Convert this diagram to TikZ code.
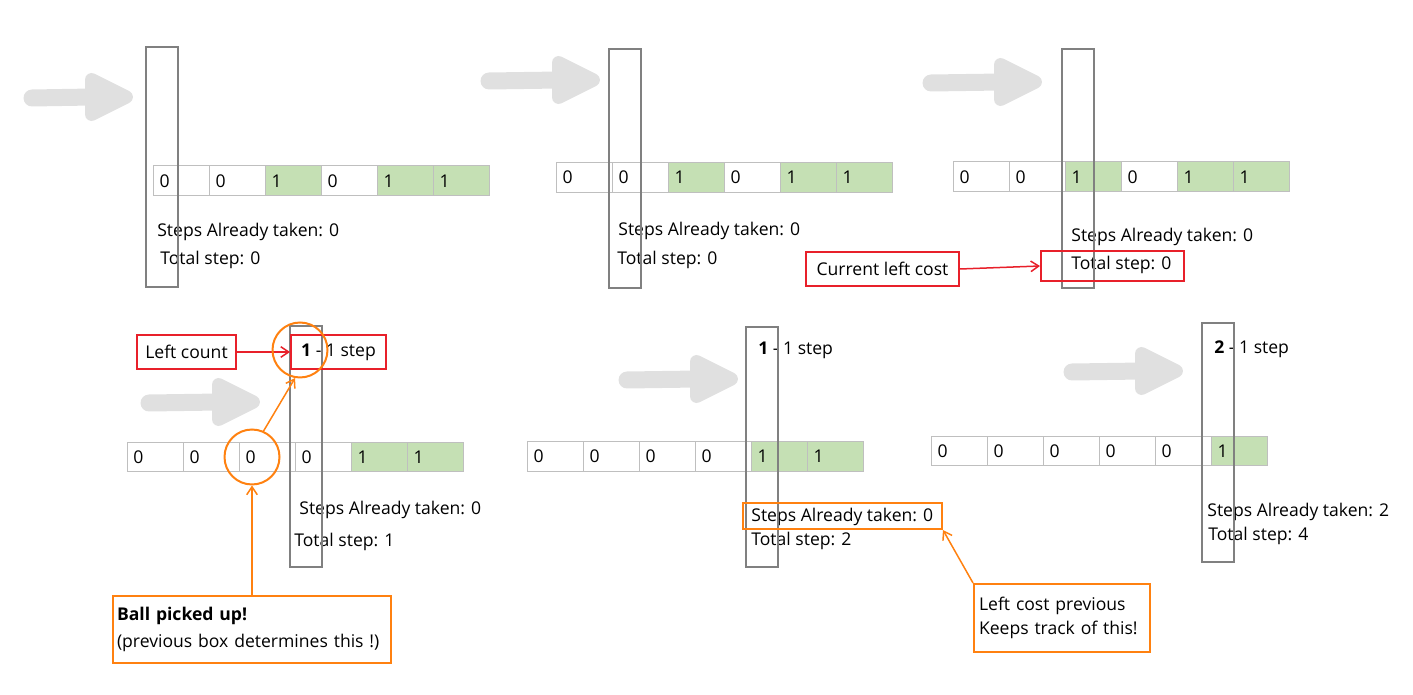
\documentclass[tikz,border=0pt]{standalone}
\usepackage{fontspec}
\setmainfont{Open Sans}
\usetikzlibrary{arrows.meta}

\definecolor{fatgray}{HTML}{E0E0E0}
\definecolor{bargray}{HTML}{808080}
\definecolor{cellline}{HTML}{BFBFBF}
\definecolor{cellgreen}{HTML}{C5E0B4}
\definecolor{notered}{HTML}{E8202A}
\definecolor{noteorange}{HTML}{FF8110}

\tikzset{
  cellbox/.style={draw=cellline, line width=0.02cm, anchor=west,
    minimum width=1.12cm, minimum height=0.6cm, inner xsep=0.12cm,
    inner ysep=0pt, text width=0.88cm, align=left},
  cell0/.style={cellbox},
  cell1/.style={cellbox, fill=cellgreen},
  scanbar/.style={draw=bargray, line width=0.04cm},
  txt/.style={anchor=west, inner sep=0pt},
  redbox/.style={draw=notered, line width=0.04cm, minimum height=0.68cm},
  orangebox/.style={draw=noteorange, line width=0.04cm},
  ring/.style={circle, draw=noteorange, line width=0.04cm,
    minimum size=1.1cm, inner sep=0pt},
  redarrow/.style={draw=notered, line width=0.03cm,
    -{Straight Barb[length=4.5pt,width=6pt]}},
  orangearrow/.style={draw=noteorange, line width=0.03cm,
    -{Straight Barb[length=4.5pt,width=6pt]}},
  pics/fatarrow/.style={code={
    \draw[fatgray, line width=0.34cm, line cap=round] (-#1,1) -- (-40,0);
    \filldraw[fatgray, line width=0.26cm, line join=round]
      (-41.5,-17.5) -- (-6.5,0) -- (-41.5,17.5) -- cycle;
  }}
}

\begin{document}
\begin{tikzpicture}[x=0.02cm, y=-0.02cm]

        \useasboundingbox (0,0) rectangle (1413,695);

        % Step 1
        \pic at (133,97) {fatarrow=101};
        \foreach \v [count=\i] in {0,0,1,0,1,1}
            \node[cell\v] (a\i) at ({153+56*(\i-1)},181) {\v};
        \node[txt] (steps1) at (157,232) {Steps Already taken: 0};
        \node[txt] (total1) at (160,260) {Total step: 0};
        \draw[scanbar] (146,47) rectangle (178,287);

        % Step 2
        \pic at (600,80) {fatarrow=111};
        \foreach \v [count=\i] in {0,0,1,0,1,1}
            \node[cell\v] (b\i) at ({556+56*(\i-1)},177.5) {\v};
        \node[txt] (steps2) at (618,231) {Steps Already taken: 0};
        \node[txt] (total2) at (617,260) {Total step: 0};
        \draw[scanbar] (609,49) rectangle (641,288);

        % Step 3
        \pic at (1042,82) {fatarrow=111};
        \foreach \v [count=\i] in {0,0,1,0,1,1}
            \node[cell\v] (c\i) at ({953+56*(\i-1)},177) {\v};
        \node[txt] (steps3) at (1071,237) {Steps Already taken: 0};
        \node[txt] (total3) at (1071,265) {Total step: 0};
        \draw[scanbar] (1062,49) rectangle (1094,288);

        % Current left cost note
        \node[redbox, minimum width=2.86cm, minimum height=0.6cm]
            (cost3) at (1112.5,266) {};
        \node[redbox, minimum width=3.06cm] (curcost) at (882.5,269)
            {Current left cost};
        \draw[redarrow] (curcost.east) -- (cost3.west);

        % Step 4
        \pic at (260,402) {fatarrow=111};
        \foreach \v [count=\i] in {0,0,0,0,1,1}
            \node[cell\v] (d\i) at ({127+56*(\i-1)},457) {\v};
        \node[txt] (steps4) at (299,510) {Steps Already taken: 0};
        \node[txt] (total4) at (294,542) {Total step: 1};
        \draw[scanbar] (290,326) rectangle (322,567);

        % Left count note
        \node[redbox, minimum width=1.9cm] (count4) at (338.5,352)
            {\textbf{1} - 1 step};
        \node[redbox, minimum width=1.98cm] (leftcount) at (186.5,352)
            {Left count};
        \draw[redarrow] (leftcount.east) -- (count4.west);

        % Ball picked up
        \node[ring] (ring1) at (300,350) {};
        \node[ring] (ring2) at (252,457) {};
        \draw[orangearrow] (ring2.66) -- (ring1.-100);
        \node[orangebox, minimum width=5.56cm, minimum height=1.34cm,
              text width=5.4cm, inner xsep=0.08cm, align=left,
              font=\fontsize{10pt}{15pt}\selectfont]
            (ballnote) at (252,629.5)
            {\textbf{Ball picked up!}\\(previous box determines this !)};
        \draw[orangearrow] (ballnote.north) -- (ring2.south);

        % Step 5
        \pic at (738,379) {fatarrow=111};
        \foreach \v [count=\i] in {0,0,0,0,1,1}
            \node[cell\v] (e\i) at ({527+56*(\i-1)},456.5) {\v};
        \node[txt] (count5) at (758,350) {\textbf{1} - 1 step};
        \node[txt] (steps5) at (751,517) {Steps Already taken: 0};
        \node[txt] (total5) at (751,541) {Total step: 2};
        \draw[scanbar] (746,327) rectangle (778,567);

        % Left cost previous note
        \node[orangebox, minimum width=3.98cm, minimum height=0.52cm]
            (prev5) at (842.5,516) {};
        \node[orangebox, minimum width=3.52cm, minimum height=1.36cm,
              text width=3.32cm, inner xsep=0.1cm, align=left,
              font=\fontsize{10pt}{14pt}\selectfont]
            (leftprev) at (1062,618)
            {Left cost previous\\Keeps track of this!};
        \draw[orangearrow] (leftprev.north west) -- (prev5.south east);

        % Step 6
        \pic at (1183,371) {fatarrow=111};
        \foreach \v [count=\i] in {0,0,0,0,0,1}
            \node[cell\v] (f\i) at ({931+56*(\i-1)},451) {\v};
        \node[txt] (count6) at (1214,349) {\textbf{2} - 1 step};
        \node[txt] (steps6) at (1207,512) {Steps Already taken: 2};
        \node[txt] (total6) at (1208,536) {Total step: 4};
        \draw[scanbar] (1202,323) rectangle (1234,562);

\end{tikzpicture}
\end{document}
